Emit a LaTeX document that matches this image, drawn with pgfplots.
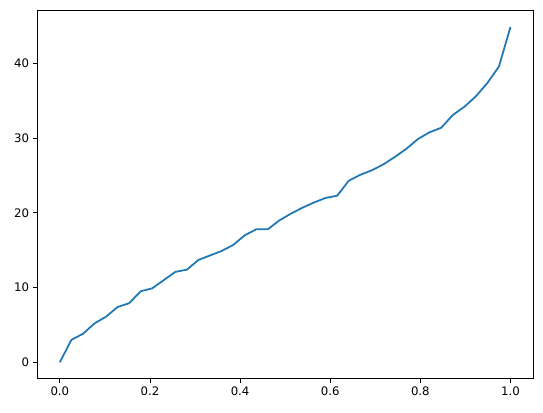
\documentclass[border=0pt]{standalone}
\usepackage{pgfplots}
\pgfplotsset{compat=1.18}
\usepackage{fontspec}
\setmainfont{DejaVu Sans}
\definecolor{tabblue}{HTML}{1F77B4}
\begin{document}
\begin{tikzpicture}
\begin{axis}[name=ax,
  scale only axis,
  width=420.9bp, height=313.1bp,
  xmin=-0.05, xmax=1.05,
  ymin=-2.245, ymax=47.145,
  xtick={0,0.2,0.4,0.6,0.8,1.0},
  ytick={0,10,20,30,40},
  xticklabel style={/pgf/number format/.cd,fixed,fixed zerofill,precision=1},
  /pgf/number format/assume math mode=true,
  tick label style={font=\fontsize{10}{12}\selectfont},
  tick align=outside,
  tick pos=left,
  major tick length=3.5bp,
  every tick/.style={black, line width=0.8bp},
  axis line style={line width=0.8bp},
  xticklabel shift=0bp,
]
\addplot[color=tabblue, line width=1.5bp, mark=none] coordinates {
(0.000000,0.0)
(0.025641,3.0)
(0.051282,3.8)
(0.076923,5.2)
(0.102564,6.1)
(0.128205,7.4)
(0.153846,7.9)
(0.179487,9.5)
(0.205128,9.9)
(0.230769,11.0)
(0.256410,12.1)
(0.282051,12.4)
(0.307692,13.7)
(0.333333,14.3)
(0.358974,14.9)
(0.384615,15.7)
(0.410256,17.0)
(0.435897,17.8)
(0.461538,17.8)
(0.487179,19.0)
(0.512821,19.9)
(0.538462,20.7)
(0.564103,21.4)
(0.589744,22.0)
(0.615385,22.3)
(0.641026,24.3)
(0.666667,25.1)
(0.692308,25.7)
(0.717949,26.5)
(0.743590,27.5)
(0.769231,28.6)
(0.794872,29.9)
(0.820513,30.8)
(0.846154,31.4)
(0.871795,33.1)
(0.897436,34.2)
(0.923077,35.6)
(0.948718,37.4)
(0.974359,39.6)
(1.000000,44.9)
};
\end{axis}
\pgfresetboundingbox
\path[use as bounding box] ([xshift=-31.7bp,yshift=-28.9bp]ax.south west) rectangle ([xshift=8.5bp,yshift=8.7bp]ax.north east);
\end{tikzpicture}
\end{document}
